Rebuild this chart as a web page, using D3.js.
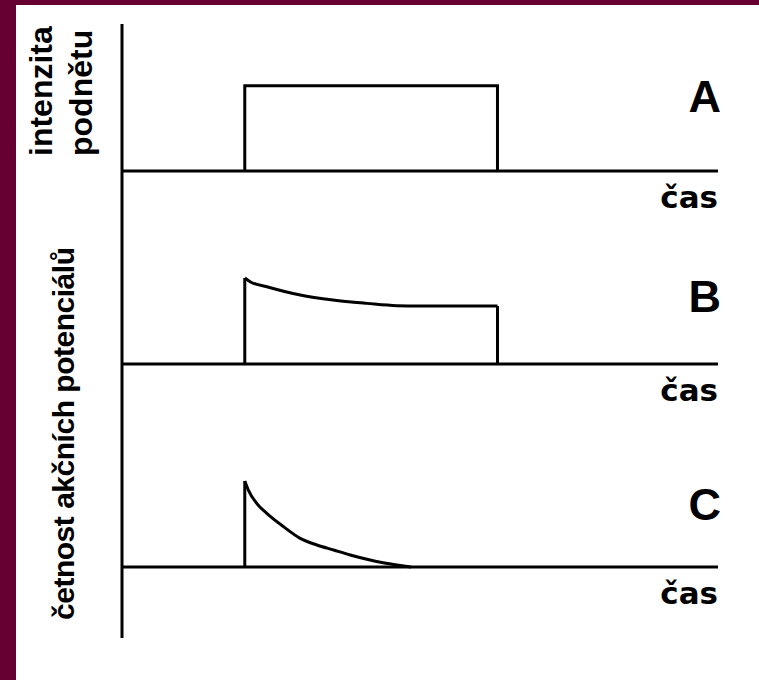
<!DOCTYPE html>
<html>
<head>
<meta charset="utf-8">
<script src="https://cdn.jsdelivr.net/npm/d3@7"></script>
<style>
  html, body { margin: 0; padding: 0; background: #660033; }
  svg { display: block; }
</style>
</head>
<body>
<svg id="chart" width="759" height="680"></svg>
<script>
// ---- data ----
const panels = ["A", "B", "C"];
const axisLabel = "čas";
const yLabelTop = ["intenzita", "podnětu"];
const yLabelBottom = "četnost akčních potenciálů";

const timeDomain = [0, 100];
const stimulusOnset = 20.6;
const stimulusOffset = 63;
const stimulusLevel = 99;

// panel B: slowly adapting response
const timesB  = [20.6, 21.5, 24.3, 29.9, 35.4, 41.1, 46.1, 50, 63];
const valuesB = [100, 95.7, 89.9, 80.2, 74.4, 70.5, 67.8, 67.4, 67.4];

// panel C: rapidly adapting response
const timesC  = [20.6, 21.2, 22.6, 24.3, 27.1, 29.9, 32.7, 35.5, 38.3, 41.1, 43.8, 47.0, 48.5];
const valuesC = [100, 89.5, 74, 62.4, 46.9, 33.3, 25.6, 19.8, 14, 9, 5, 1.5, 0];

// ---- layout ----
const svg = d3.select("#chart");
svg.append("rect").attr("x", 16).attr("y", 5).attr("width", 759 - 16).attr("height", 680 - 5).attr("fill", "#ffffff");

const x = d3.scaleLinear().domain(timeDomain).range([122, 718]);
const baselines = [171, 364, 567];
const yScales = baselines.map(b => d3.scaleLinear().domain([0, 100]).range([b, b - 86]));

const stroke = "#000";
const sw = 3;
const g = svg.append("g");

// vertical axis
g.append("line").attr("x1", 122).attr("x2", 122).attr("y1", 24).attr("y2", 638)
  .attr("stroke", stroke).attr("stroke-width", sw);

// baselines (time axes)
baselines.forEach(b => {
  g.append("line").attr("x1", x(timeDomain[0])).attr("x2", x(timeDomain[1]))
    .attr("y1", b).attr("y2", b).attr("stroke", stroke).attr("stroke-width", sw);
});

// panel A: stimulus rectangle
const yA = yScales[0];
g.append("path")
  .attr("d", d3.line().x(d => x(d[0])).y(d => yA(d[1]))([
    [stimulusOnset, 0], [stimulusOnset, stimulusLevel],
    [stimulusOffset, stimulusLevel], [stimulusOffset, 0]
  ]))
  .attr("fill", "none").attr("stroke", stroke).attr("stroke-width", sw).attr("stroke-linejoin", "miter");

// helper for response panels
function drawResponse(yS, times, values, closeAtEnd) {
  const pts = times.map((t, i) => [t, values[i]]);
  g.append("path")
    .attr("d", d3.line().x(d => x(d[0])).y(d => yS(d[1]))([[times[0], 0], [times[0], values[0]]]))
    .attr("fill", "none").attr("stroke", stroke).attr("stroke-width", sw);
  g.append("path")
    .attr("d", d3.line().x(d => x(d[0])).y(d => yS(d[1])).curve(d3.curveMonotoneX)(pts))
    .attr("fill", "none").attr("stroke", stroke).attr("stroke-width", sw);
  if (closeAtEnd) {
    const last = pts[pts.length - 1];
    g.append("path")
      .attr("d", d3.line().x(d => x(d[0])).y(d => yS(d[1]))([[last[0], last[1]], [last[0], 0]]))
      .attr("fill", "none").attr("stroke", stroke).attr("stroke-width", sw);
  }
}
drawResponse(yScales[1], timesB, valuesB, true);
drawResponse(yScales[2], timesC, valuesC, false);

// panel letters and time labels
const letterOffset = [59, 52, 47];
panels.forEach((p, i) => {
  g.append("text").attr("x", 721).attr("y", baselines[i] - letterOffset[i])
    .attr("text-anchor", "end")
    .attr("font-family", "Liberation Sans, Arial, sans-serif")
    .attr("font-weight", "bold").attr("font-size", 45).attr("fill", "#000")
    .text(p);
  g.append("text").attr("x", 718).attr("y", baselines[i] + 37)
    .attr("text-anchor", "end")
    .attr("font-family", "DejaVu Sans, sans-serif")
    .attr("font-weight", "bold").attr("font-size", 31).attr("fill", "#000")
    .text(axisLabel);
});

// rotated y labels
function vtext(xp, yp, size, txt, len) {
  const t = g.append("text")
    .attr("transform", `translate(${xp},${yp}) rotate(-90)`)
    .attr("text-anchor", "start")
    .attr("font-family", "Liberation Sans, Arial, sans-serif")
    .attr("font-weight", "bold")
    .attr("font-size", size).attr("fill", "#000")
    .text(txt);
  if (len) t.attr("textLength", len).attr("lengthAdjust", "spacing");
}
vtext(52, 156, 32, yLabelTop[0]);
vtext(92, 156, 32, yLabelTop[1]);
vtext(74, 620, 30, yLabelBottom, 373);
</script>
</body>
</html>
